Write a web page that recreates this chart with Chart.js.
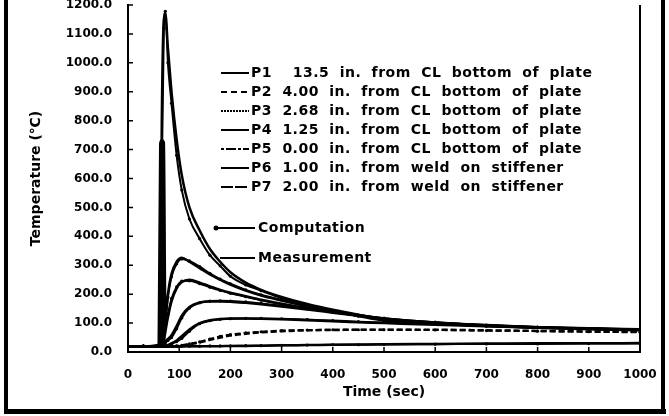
<!DOCTYPE html>
<html>
<head>
<meta charset="utf-8">
<script src="https://cdn.jsdelivr.net/npm/chart.js@4.4.0/dist/chart.umd.min.js"></script>
<style>
	html, body { margin: 0; padding: 0; background: #fff; }
	#wrap { width: 669px; height: 416px; overflow: hidden; position: relative; }
	#myChart { position: absolute; left: 0; top: -24px; }
</style>
</head>
<body>
<div id="wrap"><canvas id="myChart" width="669" height="440"></canvas></div>
<script>
// time steps (sec) shared by every curve
const times = [0, 30, 60, 63, 66, 70, 73, 78, 85, 95, 105, 120, 140, 160, 180, 200, 230, 260, 300, 350, 400, 450, 500, 600, 700, 800, 900, 1000];

// temperatures (C), computation / measurement per location
const p1Comp = [20, 20, 20, 20, 20, 20, 20, 20, 20, 20, 20, 20, 20, 21, 21, 21, 22, 22, 23, 24, 25, 25, 26, 27, 28, 28, 29, 29];
const p1Meas = [18, 18, 19, 19, 19, 19, 19, 19, 19, 19, 19, 20, 20, 20, 20, 21, 21, 22, 23, 24, 25, 26, 27, 28, 29, 30, 30, 31];
const p2Comp = [20, 20, 20, 20, 20, 20, 20, 20, 20, 21, 23, 28, 35, 45, 54, 60, 66, 70, 74, 76, 77, 77, 77, 76, 74, 72, 70, 68];
const p2Meas = [19, 19, 19, 19, 19, 19, 19, 19, 19, 20, 22, 26, 33, 42, 50, 57, 63, 68, 72, 75, 76, 77, 77, 77, 75, 73, 71, 70];
const p3Comp = [20, 20, 20, 20, 20, 20, 21, 23, 28, 36, 47, 72, 98, 108, 113, 115, 116, 116, 115, 112, 109, 105, 102, 96, 90, 85, 81, 78];
const p3Meas = [19, 19, 19, 19, 19, 20, 21, 24, 30, 40, 55, 78, 100, 110, 114, 116, 116, 115, 113, 110, 106, 103, 100, 94, 89, 84, 80, 77];
const p4Comp = [20, 20, 20, 20, 21, 25, 32, 40, 50, 80, 118, 152, 170, 176, 177, 176, 173, 168, 160, 150, 138, 127, 117, 103, 93, 86, 81, 77];
const p4Meas = [19, 19, 19, 20, 22, 28, 36, 45, 58, 90, 126, 156, 171, 175, 175, 174, 170, 165, 157, 147, 136, 125, 115, 101, 92, 85, 80, 76];
const p5Comp = [20, 20, 20, 60, 600, 1120, 1178, 1000, 860, 680, 560, 460, 392, 335, 298, 262, 232, 212, 187, 163, 142, 124, 108, 97, 89, 84, 80, 77];
const p5Meas = [20, 20, 22, 100, 800, 1150, 1170, 1050, 900, 735, 612, 500, 420, 356, 312, 276, 240, 215, 190, 166, 146, 129, 114, 100, 91, 86, 82, 79];
const p6Comp = [20, 20, 20, 22, 30, 60, 110, 190, 260, 305, 322, 315, 295, 272, 252, 236, 215, 198, 180, 160, 142, 128, 115, 100, 92, 85, 80, 76];
const p6Meas = [19, 19, 25, 720, 732, 725, 115, 200, 270, 312, 326, 312, 290, 268, 250, 233, 212, 195, 178, 158, 140, 126, 113, 99, 91, 84, 79, 75];
const p7Comp = [20, 20, 20, 21, 25, 45, 80, 130, 185, 225, 245, 246, 236, 224, 213, 203, 191, 179, 165, 150, 137, 125, 114, 100, 91, 85, 80, 76];
const p7Meas = [19, 19, 19, 20, 22, 38, 70, 120, 175, 220, 242, 250, 240, 227, 215, 205, 193, 181, 167, 152, 139, 127, 116, 102, 93, 86, 81, 77];

const legendLabels = [
	'P1  13.5 in. from CL bottom of plate',
	'P2 4.00 in. from CL bottom of plate',
	'P3 2.68 in. from CL bottom of plate',
	'P4 1.25 in. from CL bottom of plate',
	'P5 0.00 in. from CL bottom of plate',
	'P6 1.00 in. from weld on stiffener',
	'P7 2.00 in. from weld on stiffener'
];
const typeLabels = ['Computation', 'Measurement'];
// key samples and the dash used for the curves themselves
const keyDashes = [[], [6, 4], [2, 1], [], [3, 2, 10, 2], [], [12, 2]];
const curveDashes = [[], [6, 3], [], [], [], [], []];

const compSeries = [p1Comp, p2Comp, p3Comp, p4Comp, p5Comp, p6Comp, p7Comp];
const measSeries = [p1Meas, p2Meas, p3Meas, p4Meas, p5Meas, p6Meas, p7Meas];

const toPoints = (vals) => vals.map((v, i) => ({ x: times[i], y: v }));

const datasets = [];
legendLabels.forEach((lab, i) => {
	datasets.push({
		label: lab + ' (measurement)',
		data: toPoints(measSeries[i]),
		borderColor: '#000',
		backgroundColor: '#000',
		borderWidth: 2.5,
		borderDash: curveDashes[i],
		pointRadius: 0,
		// P6 gauge spiked: shade the gap to its computation curve
		fill: i === 5 ? '+1' : false,
		cubicInterpolationMode: 'monotone'
	});
	datasets.push({
		label: lab + ' (computation)',
		data: toPoints(compSeries[i]),
		borderColor: '#000',
		backgroundColor: '#000',
		borderWidth: 2,
		borderDash: curveDashes[i],
		pointRadius: 1.6,
		pointBorderWidth: 0,
		cubicInterpolationMode: 'monotone'
	});
});

const FONT = 'DejaVu Sans';

// frame, inward ticks, right axis line and the in-plot key
const decor = {
	id: 'decor',
	afterDraw(chart) {
		const { ctx, chartArea: a, scales: { x, y } } = chart;
		ctx.save();
		ctx.fillStyle = '#000';
		ctx.fillRect(4, 0, 4, 438);
		ctx.fillRect(4, 433, 662, 5);
		ctx.fillRect(661, 0, 4, 438);
		ctx.fillRect(a.right - 1, a.top, 2, a.bottom - a.top);

		ctx.strokeStyle = '#000';
		ctx.lineWidth = 1.5;
		ctx.beginPath();
		x.ticks.forEach(t => {
			const px = x.getPixelForValue(t.value);
			ctx.moveTo(px, a.bottom);
			ctx.lineTo(px, a.bottom - 5);
		});
		y.ticks.forEach(t => {
			const py = y.getPixelForValue(t.value);
			ctx.moveTo(a.left, py);
			ctx.lineTo(a.left + 5, py);
		});
		ctx.stroke();

		ctx.font = 'bold 14px "' + FONT + '"';
		ctx.textBaseline = 'middle';
		ctx.textAlign = 'left';
		ctx.wordSpacing = '5px';
		ctx.letterSpacing = '0.5px';
		legendLabels.forEach((lab, i) => {
			const ly = 97 + i * 19;
			ctx.lineWidth = 2;
			ctx.setLineDash(keyDashes[i]);
			ctx.beginPath();
			ctx.moveTo(221, ly);
			ctx.lineTo(249, ly);
			ctx.stroke();
			ctx.setLineDash([]);
			ctx.fillText(lab, 251, ly);
		});

		// computation / measurement key
		const cy = 252, my = 282;
		ctx.lineWidth = 2;
		ctx.beginPath();
		ctx.moveTo(216, cy); ctx.lineTo(255, cy);
		ctx.moveTo(220, my); ctx.lineTo(255, my);
		ctx.stroke();
		ctx.beginPath();
		ctx.arc(216, cy, 2.5, 0, Math.PI * 2);
		ctx.fill();
		ctx.fillText(typeLabels[0], 258, cy);
		ctx.fillText(typeLabels[1], 258, my);
		ctx.restore();
	}
};

const ctx = document.getElementById('myChart').getContext('2d');

const config = {
	type: 'line',
	data: { datasets: datasets },
	options: {
		responsive: false,
		animation: false,
		devicePixelRatio: 1,
		layout: { padding: { top: 29, right: 29, left: 0, bottom: 0 } },
		plugins: {
			legend: { display: false },
			tooltip: { enabled: false },
			filler: { propagate: false }
		},
		scales: {
			x: {
				type: 'linear',
				min: 0,
				max: 1000,
				grid: { display: false },
				border: { color: '#000', width: 2 },
				ticks: {
					stepSize: 100,
					color: '#000',
					padding: 8,
					maxRotation: 0,
					font: { family: FONT, size: 12, weight: 'bold' },
					callback: (v) => String(v)
				},
				title: {
					display: true,
					text: 'Time (sec)',
					color: '#000',
					padding: { top: 2, bottom: 15 },
					font: { family: FONT, size: 14, weight: 'bold' }
				},
				afterFit(scale) { scale.height = 64; }
			},
			y: {
				min: 0,
				max: 1200,
				grid: { display: false },
				border: { color: '#000', width: 2 },
				ticks: {
					stepSize: 100,
					color: '#000',
					padding: 8,
					font: { family: FONT, size: 12, weight: 'bold' },
					callback: (v) => v.toFixed(1)
				},
				title: {
					display: true,
					text: 'Temperature (\u2103)',
					color: '#000',
					padding: { top: 28, bottom: 0 },
					font: { family: FONT, size: 14, weight: 'bold' }
				},
				afterFit(scale) { scale.width = 128; }
			}
		}
	},
	plugins: [decor]
};

const myChart = new Chart(ctx, config);
</script>
</body>
</html>
